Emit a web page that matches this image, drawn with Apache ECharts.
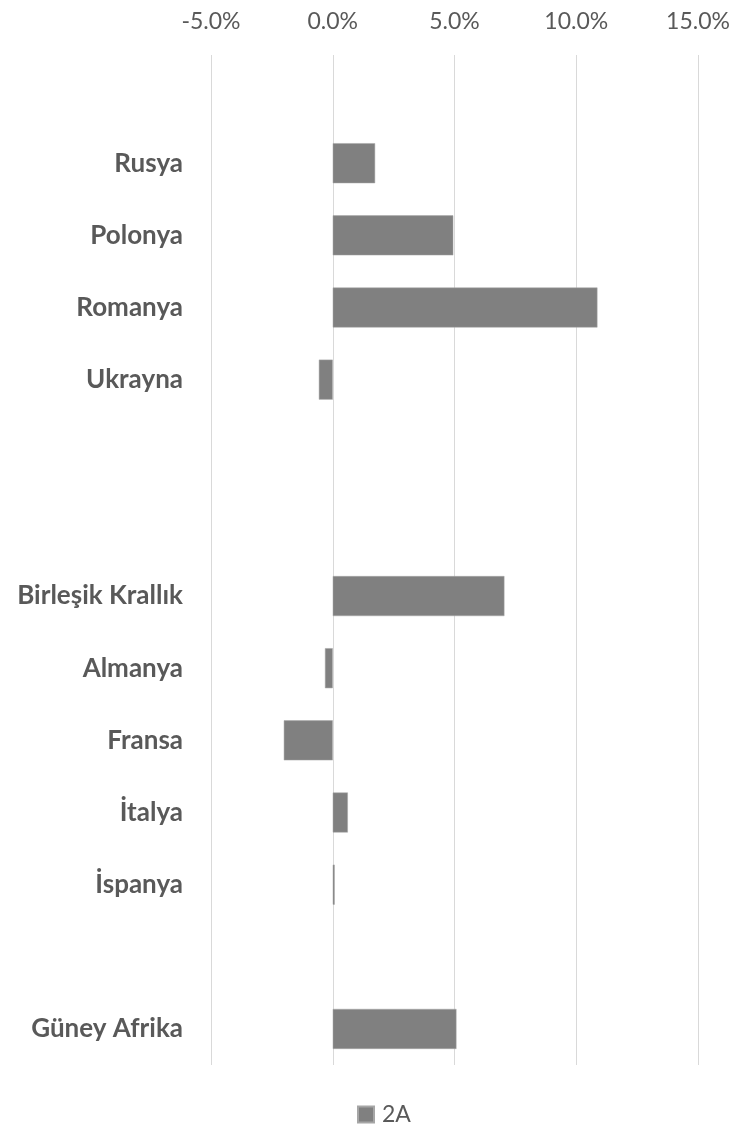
<!DOCTYPE html>
<html>
<head>
<meta charset="utf-8">
<script src="https://cdn.jsdelivr.net/npm/echarts@6/dist/echarts.min.js"></script>
<style>
html,body{margin:0;padding:0;background:#fff;}
#chart{width:740px;height:1132px;}
</style>
</head>
<body>
<div id="chart"></div>
<script>
// Categories (blank strings are empty gap rows, top to bottom)
const categories = [' ', 'Rusya', 'Polonya', 'Romanya', 'Ukrayna', '  ', '   ', 'Birleşik Krallık', 'Almanya', 'Fransa', 'İtalya', 'İspanya', '    ', 'Güney Afrika'];
// Series "2A" values in percent
const values2A = [null, 1.74, 4.95, 10.87, -0.57, null, null, 7.05, -0.32, -2.01, 0.62, 0.08, null, 5.08];
const seriesName = '2A';
const xMin = -5, xMax = 15, xStep = 5;

const chart = echarts.init(document.getElementById('chart'), null, {renderer: 'canvas'});
chart.setOption({
  animation: false,
  backgroundColor: '#ffffff',
  textStyle: {fontFamily: 'Lato, "Open Sans", sans-serif'},
  grid: {left: 211, right: 42, top: 55, bottom: 67, containLabel: false},
  legend: {
    bottom: 1,
    left: 352,
    itemWidth: 16,
    itemHeight: 16,
    itemGap: 8,
    icon: 'rect',
    data: [seriesName],
    textStyle: {color: '#595959', fontSize: 23, fontFamily: 'Lato, sans-serif', padding: [0, 0, 0, 3]}
  },
  xAxis: {
    type: 'value',
    position: 'top',
    min: xMin,
    max: xMax,
    interval: xStep,
    axisLine: {show: false},
    axisTick: {show: false},
    splitLine: {show: true, lineStyle: {color: '#d9d9d9', width: 1}},
    axisLabel: {
      color: '#595959',
      fontSize: 23,
      margin: 22,
      fontFamily: 'Lato, sans-serif',
      formatter: v => v.toFixed(1) + '%'
    }
  },
  yAxis: {
    type: 'category',
    inverse: true,
    data: categories,
    axisLine: {show: false},
    axisTick: {show: false},
    splitLine: {show: false},
    axisLabel: {
      color: '#595959',
      fontSize: 26,
      fontWeight: 'bold',
      margin: 28,
      fontFamily: 'Lato, sans-serif'
    }
  },
  series: [{
    name: seriesName,
    type: 'bar',
    data: values2A,
    barWidth: 40,
    itemStyle: {color: '#808080', borderColor: '#a6a6a6', borderWidth: 0.5}
  }]
});
</script>
</body>
</html>
